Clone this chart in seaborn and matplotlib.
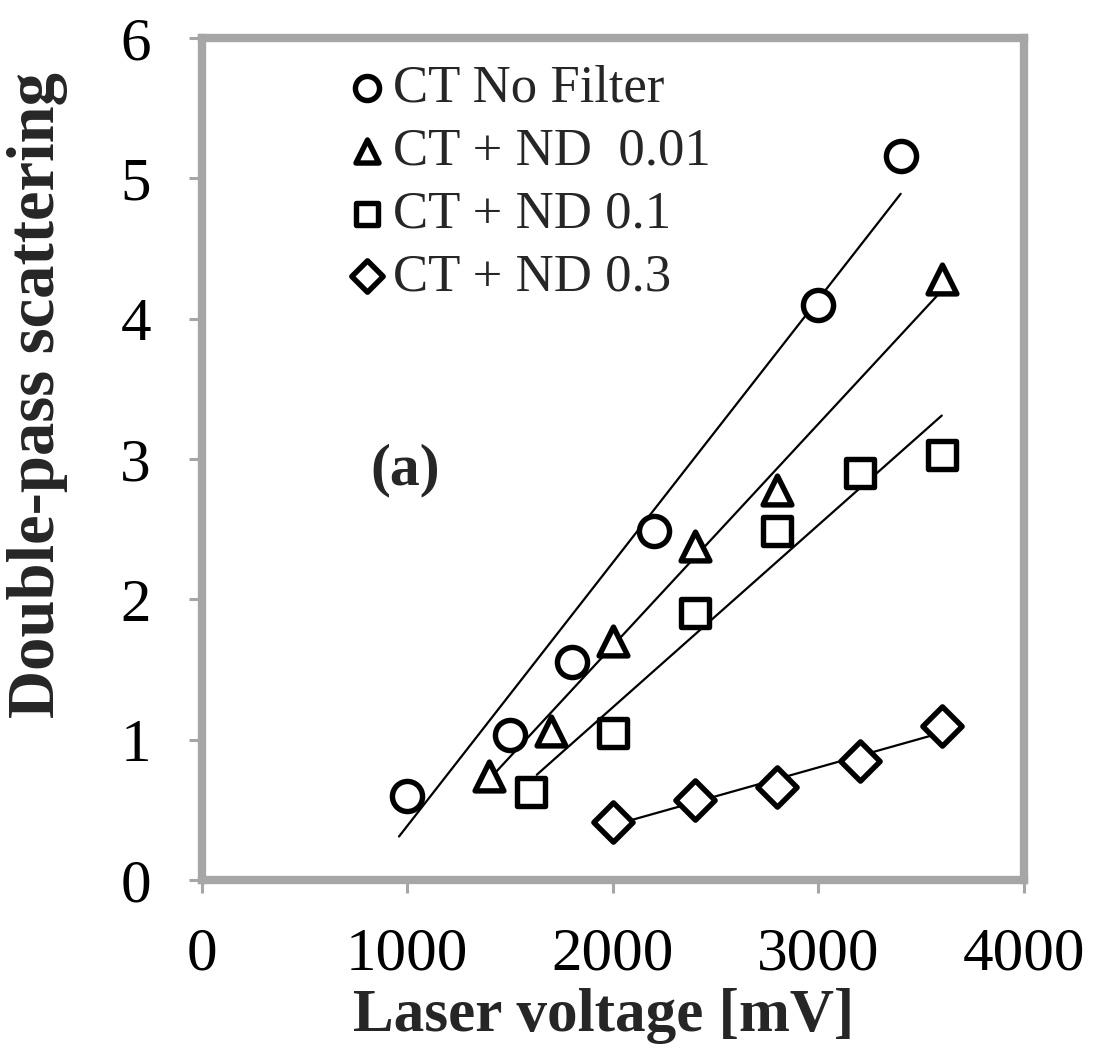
import numpy as np
import pandas as pd
import matplotlib
matplotlib.use("Agg")
import matplotlib.pyplot as plt
import seaborn as sns

# ---------------- data ----------------
series_names = ["CT No Filter", "CT + ND  0.01", "CT + ND 0.1", "CT + ND 0.3"]
series_markers = ["o", "^", "s", "D"]

nofilter_x = [1000, 1500, 1800, 2200, 3000, 3400]
nofilter_y = [0.60, 1.03, 1.55, 2.49, 4.10, 5.16]

nd001_x = [1400, 1700, 2000, 2400, 2800, 3600]
nd001_y = [0.74, 1.06, 1.70, 2.38, 2.78, 4.28]

nd01_x = [1600, 2000, 2400, 2800, 3200, 3600]
nd01_y = [0.63, 1.05, 1.90, 2.49, 2.90, 3.03]

nd03_x = [2000, 2400, 2800, 3200, 3600]
nd03_y = [0.41, 0.57, 0.66, 0.85, 1.10]

# linear trend-line end points (as drawn in the picture)
nofilter_fit_x = [960, 3400]
nofilter_fit_y = [0.31, 4.89]
nd001_fit_x = [1400, 3600]
nd001_fit_y = [0.72, 4.20]
nd01_fit_x = [1630, 3600]
nd01_fit_y = [0.75, 3.31]
nd03_fit_x = [2000, 3600]
nd03_fit_y = [0.39, 1.05]

x_ticks = [0, 1000, 2000, 3000, 4000]
y_ticks = [0, 1, 2, 3, 4, 5, 6]
x_label = "Laser voltage [mV]"
y_label = "Double-pass scattering"
panel_label = "(a)"

# ---------------- style ----------------
sns.set_style("white")
plt.rcParams["font.family"] = ["Liberation Serif", "DejaVu Serif"]

GREY = "#A6A6A6"

fig = plt.figure(figsize=(10.97, 10.51), dpi=100)
ax = fig.add_axes([0.1838, 0.1627, 0.7497, 0.8011])

points = [
    (nofilter_x, nofilter_y, nofilter_fit_x, nofilter_fit_y),
    (nd001_x, nd001_y, nd001_fit_x, nd001_fit_y),
    (nd01_x, nd01_y, nd01_fit_x, nd01_fit_y),
    (nd03_x, nd03_y, nd03_fit_x, nd03_fit_y),
]
sizes = {"o": 470, "^": 430, "s": 390, "D": 400}

handles = []
for (px, py, fx, fy), name, mk in zip(points, series_names, series_markers):
    sns.lineplot(x=fx, y=fy, ax=ax, color="black", linewidth=1.6,
                 zorder=2, legend=False)
    sns.scatterplot(x=px, y=py, ax=ax, marker=mk, s=sizes[mk],
                    color="white", edgecolor="black", linewidth=3.9,
                    zorder=3, legend=False)
    handles.append(ax.collections[-1])

ax.set_xlim(0, 4000)
ax.set_ylim(0, 6)
ax.set_xticks(x_ticks)
ax.set_yticks(y_ticks)
ax.set_xticklabels([str(v) for v in x_ticks])
ax.set_yticklabels([str(v) for v in y_ticks])

for sp in ax.spines.values():
    sp.set_visible(True)
    sp.set_color(GREY)
    sp.set_linewidth(6)

ax.tick_params(axis="both", which="major", direction="out", length=9.5,
               width=2.2, color=GREY, labelsize=44, labelcolor="black")
ax.tick_params(axis="y", pad=27, left=True)
ax.tick_params(axis="x", pad=24, bottom=True)

ax.set_xlabel(x_label, fontsize=44, fontweight="bold")
ax.set_ylabel(y_label, fontsize=48, fontweight="bold")
ax.xaxis.set_label_coords(0.489, -0.128)
ax.yaxis.set_label_coords(-0.162, 0.576)

ax.text(990, 2.92, panel_label, fontsize=43, fontweight="bold",
        ha="center", va="center")

leg = ax.legend(handles, series_names, loc="upper left",
                bbox_to_anchor=(0.137, 1.012), frameon=False,
                fontsize=38, markerscale=0.8, handlelength=0.6,
                handletextpad=0.2, labelspacing=0.28, borderpad=0.2)

fig.savefig("out.png", dpi=100)
